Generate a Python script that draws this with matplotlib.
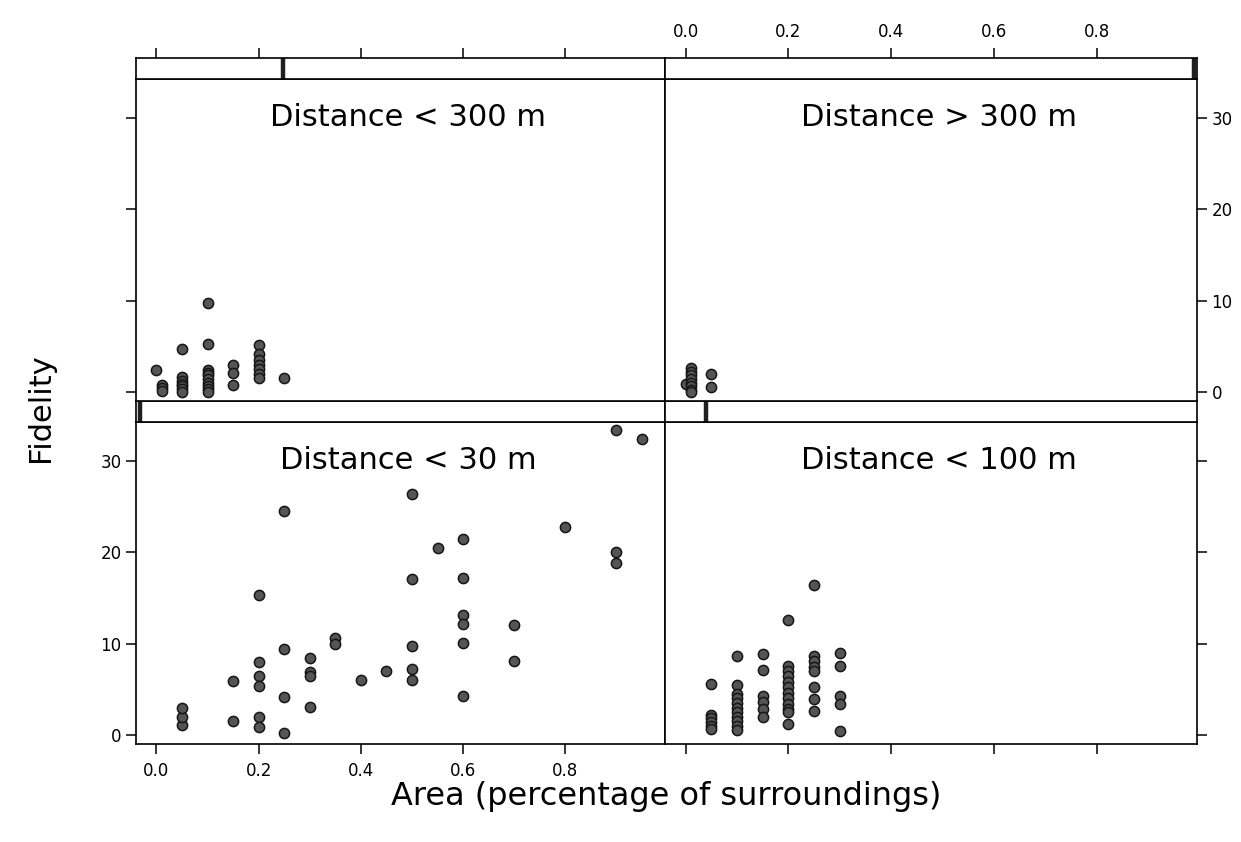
"""Lattice-style 2x2 scatter: fidelity vs area, conditioned on distance class."""

import matplotlib

matplotlib.use("Agg")
import matplotlib.pyplot as plt

# ---- data ----
panel_titles = ["Distance < 30 m", "Distance < 100 m", "Distance < 300 m", "Distance > 300 m"]

x_lt30 = [0.05, 0.05, 0.05, 0.15, 0.15, 0.2, 0.2, 0.2, 0.2, 0.2, 0.2,
          0.25, 0.25, 0.25, 0.25, 0.3, 0.3, 0.3, 0.3, 0.35, 0.35, 0.4, 0.45,
          0.5, 0.5, 0.5, 0.5, 0.5, 0.55, 0.6, 0.6, 0.6, 0.6, 0.6, 0.6,
          0.7, 0.7, 0.8, 0.9, 0.9, 0.9, 0.95]
y_lt30 = [1.1, 2.0, 2.9, 5.9, 1.5, 15.3, 8.0, 6.5, 5.4, 2.0, 0.9,
          24.5, 9.4, 4.1, 0.2, 8.4, 6.9, 6.4, 3.1, 10.6, 10.0, 6.0, 7.0,
          26.4, 17.1, 9.7, 7.2, 6.0, 20.5, 21.5, 17.2, 13.1, 12.2, 10.1, 4.3,
          12.1, 8.1, 22.8, 33.4, 20.0, 18.8, 32.4]

x_lt100 = [0.05] * 6 + [0.1] * 11 + [0.15] * 6 + [0.2] * 12 + [0.25] * 8 + [0.3] * 5
y_lt100 = [5.6, 2.2, 1.8, 1.4, 1.0, 0.6,
           8.6, 5.5, 4.5, 4.0, 3.5, 3.0, 2.5, 2.0, 1.5, 1.0, 0.5,
           8.9, 7.1, 4.3, 3.6, 2.8, 2.0,
           12.6, 7.6, 7.0, 6.4, 5.8, 5.2, 4.6, 4.0, 3.4, 2.8, 2.5, 1.15,
           16.4, 8.6, 8.1, 7.4, 7.0, 5.3, 3.9, 2.6,
           9.0, 7.5, 4.3, 3.4, 0.4]

x_lt300 = [0.0] + [0.01] * 3 + [0.05] * 7 + [0.1] * 10 + [0.15] * 3 + [0.2] * 7 + [0.25]
y_lt300 = [2.4,
           0.8, 0.4, 0.1,
           4.7, 1.6, 1.2, 0.9, 0.6, 0.3, 0.0,
           9.7, 5.3, 2.4, 2.1, 1.8, 1.4, 1.0, 0.6, 0.3, 0.0,
           3.0, 2.1, 0.7,
           5.1, 4.1, 3.5, 3.0, 2.5, 2.0, 1.5,
           1.5]

x_gt300 = [0.0] + [0.01] * 8 + [0.05] * 2
y_gt300 = [0.9, 2.6, 2.2, 1.8, 1.4, 1.0, 0.6, 0.2, 0.0, 2.0, 0.5]

# position of the level marker inside each strip (fraction of strip width)
strip_marker = [0.008, 0.078, 0.278, 0.994]

x_ticks = [0.0, 0.2, 0.4, 0.6, 0.8]
x_tick_labels = ["0.0", "0.2", "0.4", "0.6", "0.8"]
y_ticks = [0, 10, 20, 30]
y_tick_labels = ["0", "10", "20", "30"]

XLIM = (-0.04, 0.995)
YLIM = (-1.0, 34.3)

W, H = 1241, 842
plt.rcParams["font.family"] = "DejaVu Sans"
plt.rcParams["axes.linewidth"] = 1.2

fig = plt.figure(figsize=(W / 100, H / 100), dpi=100)
fig.patch.set_facecolor("white")


def px_rect(x0, y0, x1, y1):
    return [x0 / W, 1 - y1 / H, (x1 - x0) / W, (y1 - y0) / H]


cols = [(136, 665), (665, 1197)]
rows = [(58, 79, 401), (401, 422, 744)]  # strip top, panel top, panel bottom

# (row, col) of each panel, same order as the data lists
layout = [(1, 0), (1, 1), (0, 0), (0, 1)]
series = [(x_lt30, y_lt30), (x_lt100, y_lt100), (x_lt300, y_lt300), (x_gt300, y_gt300)]

for i, (r, c) in enumerate(layout):
    x0, x1 = cols[c]
    s_top, p_top, p_bot = rows[r]

    ax = fig.add_axes(px_rect(x0, p_top, x1, p_bot))
    xs, ys = series[i]
    ax.scatter(xs, ys, s=54, facecolor="#555555", edgecolor="#151515",
               linewidth=1.1, zorder=3, clip_on=False)
    ax.set_xlim(*XLIM)
    ax.set_ylim(*YLIM)
    ax.text(0.515, 0.88, panel_titles[i], transform=ax.transAxes,
            ha="center", va="center", fontsize=22)

    ax.tick_params(direction="out", length=7, width=1.1, labelsize=12)
    ax.set_xticks(x_ticks)
    ax.set_yticks(y_ticks)
    ax.tick_params(axis="x", top=False, labeltop=False)

    # x axis: bottom row gets bottom ticks, labels only on the left column
    if r == 1:
        ax.set_xticklabels(x_tick_labels if c == 0 else [""] * len(x_ticks))
        ax.tick_params(axis="x", bottom=True, labelbottom=(c == 0), pad=6)
    else:
        ax.tick_params(axis="x", bottom=False, labelbottom=False)

    # y axis: left column ticks on left, right column ticks on right
    ax.set_yticklabels(y_tick_labels)
    if c == 0:
        ax.tick_params(axis="y", left=True, right=False,
                       labelleft=(r == 1), labelright=False)
    else:
        ax.tick_params(axis="y", left=False, right=True,
                       labelleft=False, labelright=(r == 0))

    # strip above the panel, with the level marker
    sax = fig.add_axes(px_rect(x0, s_top, x1, p_top))
    sax.set_xlim(0, 1)
    sax.set_ylim(0, 1)
    sax.axvline(strip_marker[i], color="#202020", linewidth=3.2)
    sax.set_yticks([])
    if r == 0:
        sax2 = sax.twiny()
        sax2.set_xlim(*XLIM)
        sax2.set_xticks(x_ticks)
        sax2.set_xticklabels(x_tick_labels)
        sax2.tick_params(direction="out", length=7, width=1.1, labelsize=12,
                         labeltop=(c == 1), pad=5)
        for sp in sax2.spines.values():
            sp.set_visible(False)
    sax.set_xticks([])

fig.text(41 / W, 1 - 408 / H, "Fidelity", rotation=90, ha="center", va="center",
         fontsize=22)
fig.text(666 / W, 1 - 797 / H, "Area (percentage of surroundings)", ha="center",
         va="center", fontsize=23)

fig.savefig("out.png", dpi=100, facecolor="white")
